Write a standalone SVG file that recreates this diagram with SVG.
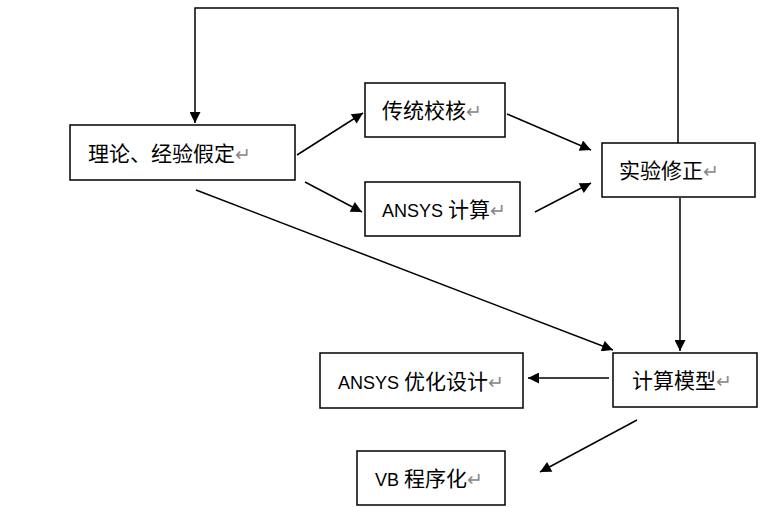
<svg xmlns="http://www.w3.org/2000/svg" width="760" height="508" viewBox="0 0 760 508">
<style>
.b{fill:#fff;stroke:#000;stroke-width:1.5}
.t{font-family:"Liberation Sans","Noto Sans CJK SC",sans-serif;font-size:21px;fill:#000}
.r{fill:#888;font-size:19px}
.c{stroke:#000;stroke-width:1.5;fill:none;marker-end:url(#a)}
</style>
<defs><marker id="a" viewBox="0 0 10 10" refX="10" refY="5" markerWidth="12" markerHeight="11" orient="auto" markerUnits="userSpaceOnUse"><path d="M0,0L10,5L0,10z" fill="#000"/></marker></defs>
<rect width="760" height="508" fill="#fff"/>
<g id="connectors">
<path class="c" d="M678,143V8H195V123"/>
<path class="c" d="M297,155L363,113"/>
<path class="c" d="M305,182L362,212"/>
<path class="c" d="M507,114L591,150"/>
<path class="c" d="M535,212L591,183"/>
<path class="c" d="M196,190L613,350"/>
<path class="c" d="M680,198V351"/>
<path class="c" d="M609,378H528"/>
<path class="c" d="M637,420L540,472"/>
</g>
<g id="n1"><rect class="b" x="70" y="125" width="225" height="55"/><text class="t" x="88" y="161">理论、经验假定<tspan class="r">↵</tspan></text></g>
<g id="n2"><rect class="b" x="365" y="83" width="140" height="54"/><text class="t" x="382" y="118">传统校核<tspan class="r">↵</tspan></text></g>
<g id="n3"><rect class="b" x="365" y="182" width="155" height="54"/><text class="t" x="382" y="217"><tspan font-size="18">ANSYS </tspan>计算<tspan class="r">↵</tspan></text></g>
<g id="n4"><rect class="b" x="602" y="143" width="153" height="54"/><text class="t" x="619" y="178">实验修正<tspan class="r">↵</tspan></text></g>
<g id="n5"><rect class="b" x="613" y="353" width="144" height="54"/><text class="t" x="632" y="388">计算模型<tspan class="r">↵</tspan></text></g>
<g id="n6"><rect class="b" x="320" y="353" width="203" height="55"/><text class="t" x="338" y="389"><tspan font-size="18">ANSYS </tspan>优化设计<tspan class="r">↵</tspan></text></g>
<g id="n7"><rect class="b" x="357" y="451" width="148" height="54"/><text class="t" x="375" y="486"><tspan font-size="18">VB </tspan>程序化<tspan class="r">↵</tspan></text></g>
</svg>
